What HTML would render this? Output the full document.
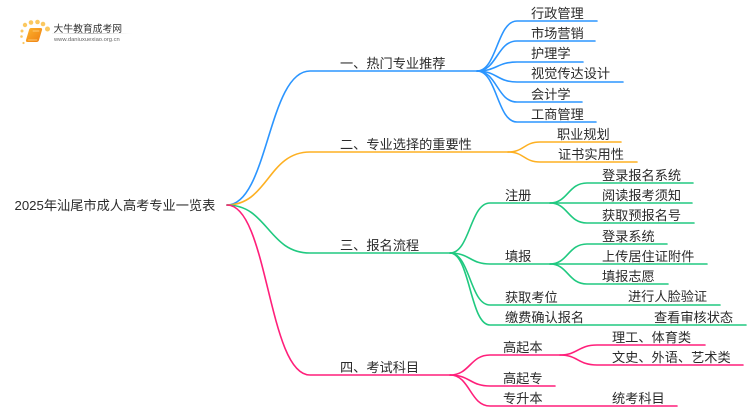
<!DOCTYPE html>
<html><head><meta charset="utf-8">
<style>
html,body{margin:0;padding:0;background:#fff;width:750px;height:410px;overflow:hidden}
svg{display:block}
text{font-family:"Liberation Sans","Noto Sans CJK SC",sans-serif;font-size:13.2px;fill:#2b2b2b}
path{fill:none;stroke-width:1.6;stroke-linecap:round}
.b path{stroke:#2b95ff}.o path{stroke:#fdb022}.g path{stroke:#20c980}.p path{stroke:#ff1f7a}
</style></head><body>
<svg width="750" height="410" viewBox="0 0 750 410" xmlns="http://www.w3.org/2000/svg">
<defs>
<linearGradient id="ln" x1="0" x2="1" y1="0" y2="0"><stop offset="0" stop-color="#ccc" stop-opacity=".2"/><stop offset=".5" stop-color="#bbb"/><stop offset="1" stop-color="#ddd" stop-opacity="0"/></linearGradient>
<linearGradient id="bk" x1="0" x2="1" y1="0" y2="1"><stop offset="0" stop-color="#fdb52e"/><stop offset="1" stop-color="#ee7d10"/></linearGradient>
</defs>
<!-- logo -->
<g fill="#fbc860">
<circle cx="25" cy="25" r="2.2"/><circle cx="31" cy="22.500" r="2.300"/><circle cx="37.500" cy="22" r="2.300"/><circle cx="43" cy="24" r="2.300"/><circle cx="47.500" cy="29" r="2.500"/><circle cx="22" cy="31" r="1.500"/><circle cx="21.500" cy="36.500" r="1.300"/><circle cx="23.500" cy="43" r="1.100"/>
</g>
<path d="M31 28h9.500q2 0 1.500 2l-3 10q-.5 2-2.500 2h-9q-2 0-1.500-2l3-10q.5-2 2-2z" style="fill:url(#bk);stroke:none"/>
<path d="M28.500 40h8.500M33 31h6" style="stroke:#ffd98f;stroke-width:.8"/>
<text x="53.500" y="32" style="font-size:9.800px;fill:#333">大牛教育成考网</text>
<rect x="52" y="33" width="80" height="1" fill="url(#ln)"/>
<text x="54" y="41" style="font-size:5.800px;fill:#666">www.daniuxuexiao.org.cn</text>

<!-- branches -->
<g class="b">
<path d="M227 205C268 205 268 71 310 71H477"/>
<path d="M477 71C497 71 497 21 517 21H597"/>
<path d="M477 71C497 71 497 41 517 41H595"/>
<path d="M477 71C497 71 497 62 517 62H583"/>
<path d="M477 71C497 71 497 82 517 82H623"/>
<path d="M477 71C497 71 497 102 517 102H582"/>
<path d="M477 71C497 71 497 122 517 122H596"/>
</g>
<g class="o">
<path d="M227 205C268 205 268 152 310 152H508"/>
<path d="M508 152C524 152 524 142 540 142H621"/>
<path d="M508 152C524 152 524 162 540 162H637"/>
</g>
<g class="g">
<path d="M227 205C268 205 268 253 310 253H450"/>
<path d="M450 253C470 253 470 203 490 203H550"/>
<path d="M450 253C470 253 470 264 490 264H550"/>
<path d="M450 253C470 253 470 305 490 305H720"/>
<path d="M450 253C470 253 470 325 490 325H746"/>
<path d="M550 203C568 203 568 183 587 183H693"/>
<path d="M550 203H692"/>
<path d="M550 203C568 203 568 223 587 223H694"/>
<path d="M550 264C568 264 568 244 587 244H667"/>
<path d="M550 264H707"/>
<path d="M550 264C568 264 568 284 587 284H668"/>
</g>
<g class="p">
<path d="M227 205C268 205 268 375 310 375H450"/>
<path d="M450 375C470 375 470 355 490 355H560"/>
<path d="M450 375C470 375 470 386 490 386H555"/>
<path d="M450 375C470 375 470 406 490 406H677"/>
<path d="M560 355C578 355 578 345 597 345H705"/>
<path d="M560 355C578 355 578 365 597 365H743"/>
</g>

<!-- labels -->
<text x="14.500" y="210">2025年汕尾市成人高考专业一览表</text>
<text x="340" y="68">一、热门专业推荐</text>
<text x="340" y="149">二、专业选择的重要性</text>
<text x="340" y="250">三、报名流程</text>
<text x="340" y="372">四、考试科目</text>

<text x="531" y="18">行政管理</text>
<text x="531" y="38">市场营销</text>
<text x="531" y="58">护理学</text>
<text x="531" y="78">视觉传达设计</text>
<text x="531" y="99">会计学</text>
<text x="531" y="119">工商管理</text>
<text x="557" y="139">职业规划</text>
<text x="558" y="159">证书实用性</text>

<text x="505" y="200">注册</text>
<text x="505" y="261">填报</text>
<text x="505" y="302">获取考位</text>
<text x="505" y="322">缴费确认报名</text>
<text x="602" y="180">登录报名系统</text>
<text x="602" y="200">阅读报考须知</text>
<text x="602" y="220">获取预报名号</text>
<text x="602" y="241">登录系统</text>
<text x="602" y="261">上传居住证附件</text>
<text x="602" y="281">填报志愿</text>
<text x="628" y="301">进行人脸验证</text>
<text x="654" y="322">查看审核状态</text>

<text x="503" y="352">高起本</text>
<text x="503" y="383">高起专</text>
<text x="503" y="403">专升本</text>
<text x="612" y="342">理工、体育类</text>
<text x="612" y="362">文史、外语、艺术类</text>
<text x="612" y="403">统考科目</text>
</svg>
</body></html>
